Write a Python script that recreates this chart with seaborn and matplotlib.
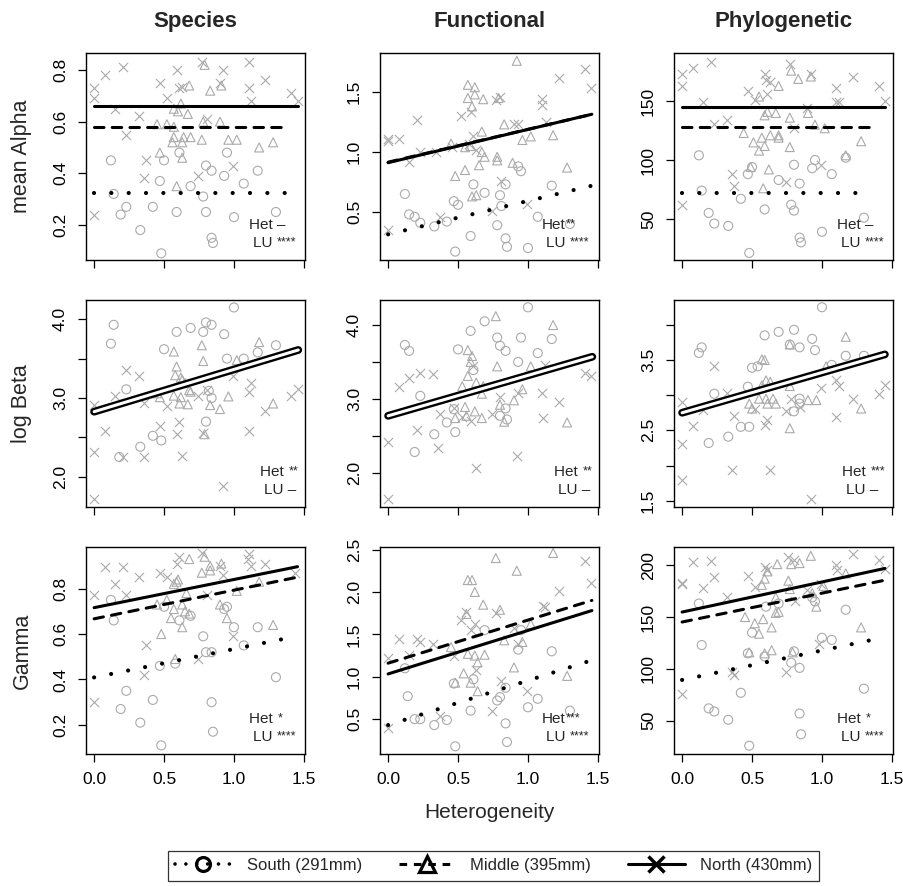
import numpy as np
import pandas as pd
import matplotlib
matplotlib.use("Agg")
import matplotlib.pyplot as plt
from matplotlib.lines import Line2D
import seaborn as sns

sns.set_style("ticks")
plt.rcParams["font.family"] = ["Liberation Sans", "DejaVu Sans"]

regions = ["South", "Middle", "North"]
region_labels = ["South (291mm)", "Middle (395mm)", "North (430mm)"]
col_titles = ["Species", "Functional", "Phylogenetic"]
row_labels = ["mean Alpha", "log Beta", "Gamma"]

# ---- points (heterogeneity, value) ----
# mean alpha
sp_alpha_south = [(0.12,0.45),(0.14,0.32),(0.19,0.24),(0.23,0.27),(0.33,0.18),(0.42,0.27),(0.47,0.37),(0.50,0.45),(0.59,0.25),(0.61,0.48),(0.69,0.35),(0.78,0.31),(0.80,0.25),(0.80,0.43),(0.84,0.41),(0.84,0.15),(0.85,0.13),(0.93,0.39),(0.95,0.48),(1.00,0.23),(1.07,0.36),(1.17,0.41),(1.30,0.25),(0.48,0.09)]
sp_alpha_middle = [(0.45,0.59),(0.52,0.59),(0.57,0.58),(0.47,0.48),(0.56,0.52),(0.57,0.54),(0.64,0.54),(0.69,0.54),(0.63,0.52),(0.57,0.65),(0.60,0.64),(0.62,0.67),(0.67,0.63),(0.68,0.74),(0.83,0.72),(0.91,0.74),(0.79,0.82),(0.78,0.60),(0.90,0.60),(0.77,0.53),(0.96,0.53),(1.02,0.53),(1.18,0.50),(1.28,0.52),(0.59,0.35),(0.63,0.46)]
sp_alpha_north = [(0.00,0.73),(0.00,0.69),(0.08,0.78),(0.21,0.81),(0.15,0.65),(0.32,0.62),(0.23,0.55),(0.47,0.75),(0.52,0.69),(0.59,0.80),(0.61,0.73),(0.63,0.735),(0.77,0.83),(0.81,0.61),(0.92,0.80),(0.90,0.75),(1.11,0.83),(1.11,0.73),(1.12,0.68),(1.22,0.76),(1.41,0.71),(1.46,0.68),(0.37,0.45),(0.36,0.38),(0.74,0.39),(0.99,0.43),(0.00,0.24)]

fn_alpha_south = [(0.12,0.65),(0.15,0.48),(0.19,0.46),(0.23,0.41),(0.33,0.38),(0.42,0.42),(0.47,0.59),(0.50,0.56),(0.48,0.17),(0.59,0.30),(0.61,0.73),(0.69,0.66),(0.78,0.39),(0.80,0.64),(0.81,0.55),(0.84,0.73),(0.84,0.28),(0.85,0.21),(0.93,0.88),(0.95,0.84),(1.00,0.20),(1.07,0.46),(1.17,0.72),(1.30,0.40)]
fn_alpha_middle = [(0.57,1.56),(0.62,1.54),(0.57,1.45),(0.62,1.48),(0.60,1.38),(0.68,1.44),(0.79,1.45),(0.83,1.23),(0.92,1.76),(0.67,1.17),(0.55,1.04),(0.59,1.05),(0.67,1.00),(0.69,0.96),(0.78,0.96),(0.78,0.93),(0.89,0.91),(0.96,1.10),(1.02,1.13),(1.18,1.14),(1.28,0.87),(0.65,0.89),(0.55,0.85),(0.48,0.80),(0.45,1.07),(0.63,0.64),(0.60,0.63)]
fn_alpha_north = [(0.00,1.11),(0.00,1.09),(0.08,1.11),(0.21,1.27),(0.15,0.92),(0.23,1.00),(0.34,1.00),(0.52,1.30),(0.59,1.33),(0.61,1.13),(0.63,1.02),(0.77,1.43),(0.80,1.46),(0.90,1.23),(0.93,1.23),(1.10,1.44),(1.10,1.39),(1.13,1.25),(1.22,1.62),(1.41,1.69),(1.45,1.53),(0.81,0.76),(0.99,0.57),(0.74,0.51),(0.37,0.46),(0.00,0.35),(0.46,1.04),(0.58,1.07)]

ph_alpha_south = [(0.12,104),(0.14,74),(0.19,55),(0.23,46),(0.33,44),(0.42,67),(0.47,88),(0.50,94),(0.48,21),(0.59,58),(0.69,83),(0.78,62),(0.80,57),(0.80,96),(0.84,80),(0.84,34),(0.85,30),(0.93,93),(0.95,100),(1.00,39),(1.07,88),(1.17,102),(1.30,51)]
ph_alpha_middle = [(0.44,123),(0.51,115),(0.55,108),(0.57,119),(0.59,112),(0.63,121),(0.69,121),(0.69,119),(0.55,154),(0.59,138),(0.61,141),(0.67,140),(0.69,163),(0.78,176),(0.83,169),(0.92,171),(0.77,111),(0.77,136),(0.90,140),(0.95,130),(1.02,127),(1.17,104),(1.28,116),(0.62,92),(0.58,76),(0.49,94)]
ph_alpha_north = [(0.00,173),(0.00,163),(0.08,178),(0.21,183),(0.15,149),(0.23,131),(0.32,134),(0.47,159),(0.52,151),(0.59,173),(0.60,168),(0.63,166),(0.61,156),(0.77,182),(0.80,127),(0.89,144),(0.92,173),(1.10,161),(1.10,149),(1.12,149),(1.22,171),(1.41,163),(1.45,150),(0.36,88),(0.37,78),(0.74,81),(0.99,96),(0.00,62)]

# log beta
sp_beta_south = [(0.14,3.93),(0.12,3.69),(0.23,3.11),(0.33,2.38),(0.42,2.52),(0.48,2.46),(0.50,3.62),(0.59,3.84),(0.69,3.89),(0.78,3.84),(0.80,3.96),(0.84,3.93),(0.93,3.81),(1.00,4.15),(0.95,3.50),(1.07,3.50),(1.17,3.58),(1.30,3.67),(0.80,2.70),(0.84,3.00),(0.82,3.09),(0.18,2.25)]
sp_beta_middle = [(0.57,3.59),(0.77,3.67),(0.78,3.47),(0.59,3.40),(0.58,3.29),(0.62,3.26),(0.63,3.23),(0.65,3.19),(0.68,3.10),(0.69,3.08),(0.57,3.03),(0.62,3.01),(0.61,2.93),(0.67,2.92),(0.47,3.01),(0.45,3.06),(0.83,2.91),(0.90,2.86),(0.96,3.02),(1.02,3.48),(1.18,3.71),(1.28,2.93),(0.79,2.54)]
sp_beta_north = [(0.00,2.91),(0.00,2.31),(0.00,1.72),(0.08,2.58),(0.15,3.02),(0.23,3.36),(0.32,3.28),(0.36,2.94),(0.21,2.25),(0.36,2.25),(0.47,2.64),(0.52,2.90),(0.59,2.54),(0.61,2.69),(0.63,2.26),(0.74,3.03),(0.81,3.10),(0.99,3.28),(0.92,1.88),(1.11,3.08),(1.12,3.19),(1.11,2.58),(1.22,2.83),(1.41,3.02),(1.46,3.11),(0.78,2.55)]

fn_beta_south = [(0.12,3.73),(0.15,3.65),(0.23,3.04),(0.33,2.52),(0.19,2.28),(0.42,2.68),(0.48,2.55),(0.47,2.86),(0.50,3.67),(0.59,3.92),(0.61,3.39),(0.69,4.05),(0.78,3.83),(0.80,3.72),(0.84,3.65),(0.84,2.87),(0.85,2.72),(0.80,2.77),(0.95,3.83),(0.93,3.50),(1.00,4.24),(1.07,3.62),(1.17,3.81)]
fn_beta_middle = [(0.77,4.12),(1.18,4.00),(0.57,3.66),(0.60,3.58),(0.59,3.50),(0.57,3.31),(0.53,3.17),(0.63,3.22),(0.68,3.17),(0.67,3.07),(0.78,3.44),(0.55,2.89),(0.56,2.77),(0.62,2.83),(0.67,2.74),(0.48,2.74),(0.83,2.69),(0.90,2.98),(0.96,3.13),(1.02,3.44),(1.28,2.68),(0.80,2.92)]
fn_beta_north = [(0.00,2.41),(0.00,1.64),(0.08,3.16),(0.15,3.28),(0.23,3.35),(0.32,3.34),(0.21,2.58),(0.36,2.34),(0.37,2.79),(0.59,2.70),(0.61,3.44),(0.63,2.06),(0.80,3.02),(0.74,2.79),(0.92,2.23),(0.93,3.08),(1.10,3.08),(1.11,2.74),(1.12,3.46),(1.22,2.96),(1.41,3.35),(1.45,3.31),(0.47,2.87),(0.53,2.76)]

ph_beta_south = [(0.12,3.60),(0.14,3.68),(0.23,3.02),(0.33,2.41),(0.42,2.55),(0.48,2.55),(0.19,2.32),(0.47,3.12),(0.50,3.39),(0.54,3.41),(0.59,3.85),(0.69,3.90),(0.80,3.93),(0.77,3.72),(0.84,3.68),(0.93,3.80),(0.95,3.64),(1.00,4.25),(0.80,2.77),(0.84,2.95),(0.84,2.88),(1.07,3.43),(1.17,3.56),(1.30,3.56)]
ph_beta_middle = [(1.17,3.83),(0.77,3.72),(0.57,3.51),(0.59,3.50),(0.60,3.21),(0.57,3.14),(0.63,3.19),(0.55,2.95),(0.60,2.95),(0.65,2.95),(0.67,2.88),(0.61,2.88),(0.48,2.88),(0.50,2.81),(0.77,3.13),(0.77,2.53),(0.90,2.93),(0.96,2.93),(1.03,3.41),(1.28,2.81)]
ph_beta_north = [(0.00,2.90),(0.00,2.30),(0.00,1.80),(0.08,2.56),(0.15,2.79),(0.23,3.41),(0.32,3.03),(0.37,2.71),(0.36,1.94),(0.52,2.81),(0.59,2.57),(0.61,2.64),(0.63,1.94),(0.74,2.78),(0.84,2.83),(0.92,1.52),(0.99,3.10),(1.10,3.22),(1.12,3.13),(1.10,2.69),(1.22,2.95),(1.41,3.02),(1.45,3.15),(0.78,2.94)]

# gamma
sp_gamma_south = [(0.12,0.75),(0.14,0.66),(0.23,0.35),(0.19,0.27),(0.33,0.21),(0.42,0.31),(0.47,0.46),(0.50,0.72),(0.58,0.47),(0.61,0.66),(0.69,0.68),(0.78,0.59),(0.80,0.52),(0.84,0.30),(0.85,0.17),(0.84,0.52),(0.95,0.72),(1.00,0.63),(1.07,0.55),(1.17,0.63),(1.30,0.41),(0.48,0.11),(0.93,0.71)]
sp_gamma_middle = [(0.68,0.93),(0.83,0.90),(0.91,0.91),(0.79,0.94),(0.77,0.87),(0.83,0.88),(0.57,0.82),(0.59,0.83),(0.60,0.84),(1.18,0.83),(1.02,0.79),(0.66,0.78),(0.45,0.73),(0.52,0.75),(0.90,0.73),(0.55,0.67),(0.57,0.71),(0.63,0.73),(0.65,0.70),(0.63,0.63),(0.48,0.60),(0.58,0.49),(0.68,0.69),(0.95,0.67),(1.28,0.64)]
sp_gamma_north = [(0.08,0.896),(0.21,0.896),(0.15,0.82),(0.32,0.85),(0.23,0.77),(0.00,0.77),(0.47,0.87),(0.52,0.85),(0.59,0.91),(0.61,0.94),(0.77,0.955),(0.90,0.90),(0.92,0.86),(1.11,0.95),(1.10,0.93),(1.12,0.90),(1.22,0.91),(1.44,0.87),(0.37,0.55),(0.36,0.42),(0.74,0.49),(0.99,0.59),(0.00,0.30),(0.81,0.77)]

fn_gamma_south = [(0.12,1.10),(0.14,0.77),(0.19,0.50),(0.23,0.50),(0.33,0.43),(0.42,0.49),(0.47,0.92),(0.48,0.18),(0.59,0.60),(0.61,0.97),(0.69,1.55),(0.78,0.72),(0.80,0.76),(0.84,0.45),(0.85,0.23),(0.84,0.87),(0.93,1.32),(0.95,1.55),(1.00,0.64),(1.07,0.74),(1.17,1.30),(1.30,0.60)]
fn_gamma_middle = [(0.77,2.40),(1.18,2.46),(0.92,2.25),(0.57,2.14),(0.60,2.14),(0.62,2.00),(0.68,1.85),(0.80,1.79),(0.56,1.74),(0.57,1.27),(0.62,1.25),(0.69,1.26),(0.48,0.93),(0.54,1.04),(0.59,0.93),(0.64,0.83),(0.64,1.17),(0.45,1.35),(0.83,1.43),(0.90,1.11),(0.96,1.41),(1.02,1.62),(1.28,1.01)]
fn_gamma_north = [(1.41,2.37),(1.45,2.11),(1.22,2.01),(1.11,1.84),(0.00,1.22),(0.00,0.40),(0.08,1.45),(0.15,1.26),(0.21,1.45),(0.23,1.41),(0.32,1.39),(0.37,0.54),(0.52,1.67),(0.56,1.76),(0.59,1.55),(0.62,1.62),(0.47,1.25),(0.63,1.08),(0.77,1.75),(0.74,0.60),(0.81,0.95),(0.90,1.58),(0.93,1.39),(0.99,0.83),(1.12,1.82)]

ph_gamma_south = [(0.12,163),(0.14,123),(0.19,62),(0.23,59),(0.33,51),(0.42,77),(0.47,115),(0.50,135),(0.48,26),(0.59,112),(0.60,160),(0.69,163),(0.78,106),(0.80,117),(0.84,101),(0.84,57),(0.85,37),(0.93,169),(0.95,165),(1.00,130),(1.07,128),(1.17,157),(1.30,81)]
ph_gamma_middle = [(0.92,209),(0.84,202),(0.78,201),(0.68,201),(0.61,194),(0.59,187),(0.57,181),(0.76,185),(0.77,177),(0.67,169),(1.01,180),(1.17,192),(0.93,173),(0.45,150),(0.52,144),(0.55,134),(0.58,148),(0.64,140),(0.67,154),(0.69,155),(0.96,160),(1.28,140),(0.48,116),(0.59,115),(0.64,118),(0.79,116)]
ph_gamma_north = [(0.08,203),(0.21,204),(0.00,183),(0.15,178),(0.23,189),(0.32,169),(0.47,190),(0.52,179),(0.59,198),(0.61,195),(0.76,208),(0.80,205),(1.10,200),(1.11,195),(1.22,211),(1.41,205),(1.45,196),(0.99,182),(0.81,165),(0.00,182),(0.89,176),(0.74,97),(0.98,124),(0.37,94),(0.36,97),(0.00,76)]

# ---- fitted lines: (intercept, slope, last x) for South, Middle, North ----
sp_alpha_fit = [(0.322, 0.0, 1.37), (0.578, 0.0, 1.37), (0.660, 0.0, 1.455)]
fn_alpha_fit = [(0.314, 0.278, 1.45), (0.915, 0.274, 1.455), (0.911, 0.277, 1.457)]
ph_alpha_fit = [(71.8, 0.0, 1.36), (128.0, 0.0, 1.36), (144.9, 0.0, 1.45)]
# beta: one common line
sp_beta_fit = (2.826, 0.537, 1.46)
fn_beta_fit = (2.77, 0.548, 1.46)
ph_beta_fit = (2.75, 0.572, 1.45)
sp_gamma_fit = [(0.409, 0.125, 1.34), (0.667, 0.126, 1.45), (0.716, 0.124, 1.455)]
fn_gamma_fit = [(0.43, 0.525, 1.42), (1.16, 0.508, 1.457), (1.033, 0.513, 1.457)]
ph_gamma_fit = [(89.4, 28.4, 1.34), (145.2, 27.8, 1.45), (154.8, 29.0, 1.45)]

# significance notes: (Het text, Het stars, LU text, LU stars)
alpha_notes = [("Het \u2013", "", "LU ", "****"), ("Het", "**", "LU ", "****"), ("Het \u2013", "", "LU ", "****")]
beta_notes = [("Het ", "**", "LU \u2013", ""), ("Het ", "**", "LU \u2013", ""), ("Het ", "***", "LU \u2013", "")]
gamma_notes = [("Het ", "*", "LU ", "****"), ("Het", "***", "LU ", "****"), ("Het ", "*", "LU ", "****")]
# left edge of the note block, pixels in from the right spine
note_left = [[56, 57, 56], [45, 45, 51], [56, 57, 56]]

# axis ranges / ticks
ylims = [[(0.064, 0.866), (0.10, 1.825), (15, 191)],
         [(1.615, 4.245), (1.535, 4.339), (1.41, 4.353)],
         [(0.072, 0.983), (0.089, 2.53), (18, 217.5)]]
yticks = [[[0.2, 0.4, 0.6, 0.8], [0.5, 1.0, 1.5], [50, 100, 150]],
          [[2.0, 2.5, 3.0, 3.5, 4.0], [2.0, 2.5, 3.0, 3.5, 4.0], [1.5, 2.0, 2.5, 3.0, 3.5, 4.0]],
          [[0.2, 0.4, 0.6, 0.8], [0.5, 1.0, 1.5, 2.0, 2.5], [50, 100, 150, 200]]]
yticklabels = [[["0.2", "0.4", "0.6", "0.8"], ["0.5", "1.0", "1.5"], ["50", "100", "150"]],
               [["2.0", "", "3.0", "", "4.0"], ["2.0", "", "3.0", "", "4.0"], ["1.5", "", "2.5", "", "3.5", ""]],
               [["0.2", "0.4", "0.6", "0.8"], ["0.5", "1.0", "1.5", "2.0", "2.5"], ["50", "100", "150", "200"]]]
xticks = [0.0, 0.5, 1.0, 1.5]

points = [[[sp_alpha_south, sp_alpha_middle, sp_alpha_north],
           [fn_alpha_south, fn_alpha_middle, fn_alpha_north],
           [ph_alpha_south, ph_alpha_middle, ph_alpha_north]],
          [[sp_beta_south, sp_beta_middle, sp_beta_north],
           [fn_beta_south, fn_beta_middle, fn_beta_north],
           [ph_beta_south, ph_beta_middle, ph_beta_north]],
          [[sp_gamma_south, sp_gamma_middle, sp_gamma_north],
           [fn_gamma_south, fn_gamma_middle, fn_gamma_north],
           [ph_gamma_south, ph_gamma_middle, ph_gamma_north]]]
fits = [[sp_alpha_fit, fn_alpha_fit, ph_alpha_fit],
        [sp_beta_fit, fn_beta_fit, ph_beta_fit],
        [sp_gamma_fit, fn_gamma_fit, ph_gamma_fit]]
notes = [alpha_notes, beta_notes, gamma_notes]

GREY = "#aaaaaa"
markers = {"South": "o", "Middle": "^", "North": "x"}
line_styles = {"South": dict(lw=3.0, linestyle=(0, (0.01, 4.15)), dash_capstyle="round"),
               "Middle": dict(lw=2.2, linestyle=(0, (3.1, 2.7)), dash_capstyle="round"),
               "North": dict(lw=2.2, linestyle="-", solid_capstyle="round")}

W, H = 904, 886
fig = plt.figure(figsize=(W / 100, H / 100), dpi=100)
col_left = [86, 380, 674]
col_w = 219
row_top = [53, 300, 547]
row_h = 207


def add_note(ax, x, y, text, stars):
    t = ax.text(x, y, text, transform=ax.transAxes, ha="left", va="center", fontsize=11)
    if stars:
        ax.annotate(stars, xy=(1.0, 0.97), xycoords=t, xytext=(0.3, 0), textcoords="offset points",
                    ha="left", va="top", fontsize=9)


for r in range(3):
    for c in range(3):
        ax = fig.add_axes([col_left[c] / W, 1 - (row_top[r] + row_h) / H, col_w / W, row_h / H])

        for region, pts in zip(regions, points[r][c]):
            df = pd.DataFrame(pts, columns=["het", "value"])
            if markers[region] == "x":
                sns.scatterplot(data=df, x="het", y="value", marker="x", s=44,
                                color=GREY, linewidth=0.8, ax=ax)
            else:
                sns.scatterplot(data=df, x="het", y="value", marker=markers[region], s=42,
                                facecolor="none", edgecolor=GREY, linewidth=0.8, ax=ax)

        fit = fits[r][c]
        if r == 1:
            a, b, xe = fit
            xs = np.array([0.0, xe])
            sns.lineplot(x=xs, y=a + b * xs, color="black", lw=5.6,
                         solid_capstyle="round", errorbar=None, ax=ax)
            sns.lineplot(x=xs, y=a + b * xs, color="white", lw=2.2,
                         solid_capstyle="round", errorbar=None, ax=ax)
        else:
            for region, (a, b, xe) in zip(regions, fit):
                xs = np.array([0.0, xe])
                sns.lineplot(x=xs, y=a + b * xs, color="black", errorbar=None,
                             ax=ax, **line_styles[region])

        ax.set_xlim(-0.058, 1.508)
        ax.set_ylim(*ylims[r][c])
        ax.set_xticks(xticks)
        ax.set_xticklabels(["0.0", "0.5", "1.0", "1.5"])
        ax.set_yticks(yticks[r][c])
        ax.set_yticklabels(yticklabels[r][c])
        ax.set_xlabel("")
        ax.set_ylabel("")
        ax.tick_params(direction="out", length=6, width=0.9, labelsize=12.5, colors="black")
        ax.tick_params(axis="x", pad=7, labelbottom=(r == 2))
        ax.tick_params(axis="y", pad=7, labelrotation=90)
        for lab in ax.get_yticklabels():
            lab.set_va("center")
        for sp in ax.spines.values():
            sp.set_visible(True)
            sp.set_linewidth(1.0)
            sp.set_color("black")

        het, het_st, lu, lu_st = notes[r][c]
        x0 = 1 - note_left[r][c] / col_w
        add_note(ax, x0, 35 / row_h, het, het_st)
        add_note(ax, x0 + 4 / col_w, 17 / row_h, lu, lu_st)

        if r == 0:
            ax.set_title(col_titles[c], fontsize=16, fontweight="bold", pad=19)
    fig.text(22 / W, 1 - (row_top[r] + row_h / 2) / H, row_labels[r], rotation=90,
             ha="center", va="center", fontsize=15.5)

fig.text(489.5 / W, 1 - 813 / H, "Heterogeneity", ha="center", va="center", fontsize=15)

handles = [
    Line2D([], [], color="black", lw=2.6, linestyle=(0, (0.01, 3.0)), dash_capstyle="round",
           marker="o", ms=10, mfc="none", mec="black", mew=2.3),
    Line2D([], [], color="black", lw=2.2, linestyle=(0, (2.5, 2.2)),
           marker="^", ms=11, mfc="none", mec="black", mew=2.3),
    Line2D([], [], color="black", lw=2.2, linestyle="-",
           marker="x", ms=12, mec="black", mew=2.5),
]
leg = fig.legend(handles, region_labels, loc="center", bbox_to_anchor=(493.5 / W, 1 - 865.5 / H),
                 ncol=3, frameon=True, fancybox=False, edgecolor="black", fontsize=12,
                 handlelength=3.4, handletextpad=0.9, columnspacing=2.2, borderpad=0.45)
leg.get_frame().set_linewidth(0.9)

fig.savefig("out.png", dpi=100)
